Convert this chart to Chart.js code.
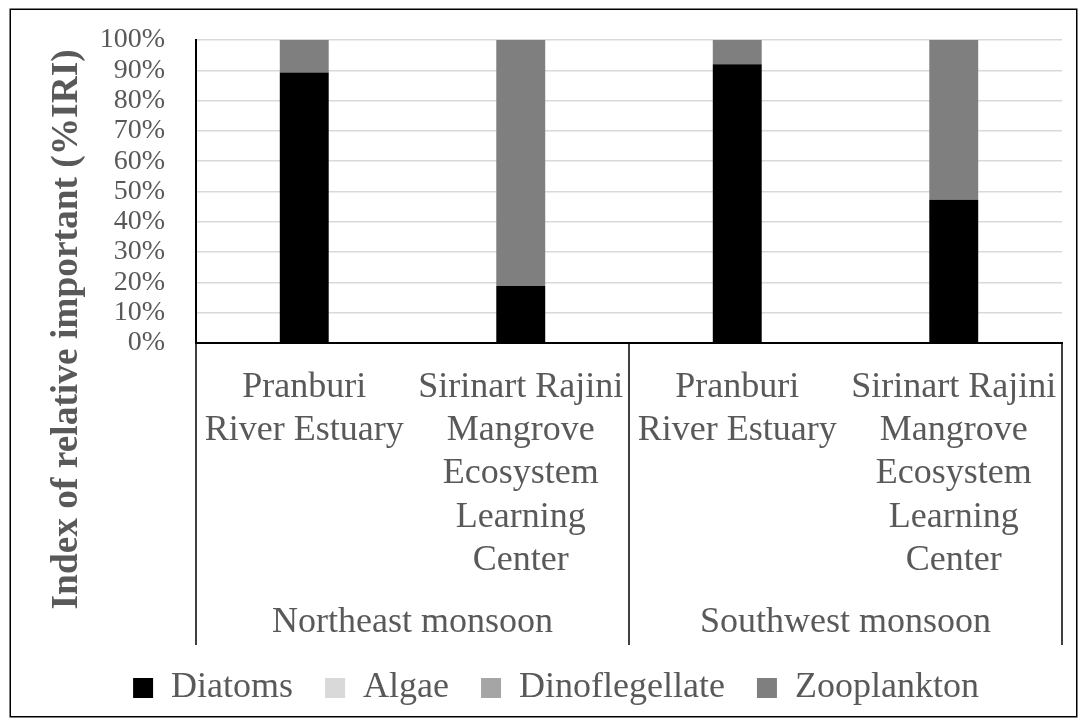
<!DOCTYPE html>
<html>
<head>
<meta charset="utf-8">
<script src="https://cdn.jsdelivr.net/npm/chart.js@4/dist/chart.umd.min.js"></script>
<style>
  html, body { margin: 0; padding: 0; background: #ffffff; }
  #wrap { width: 1086px; height: 726px; }
</style>
</head>
<body>
<div id="wrap"><canvas id="c" width="1086" height="726"></canvas></div>
<script>
// ---- data ----
const categories = [
  ['Pranburi', 'River Estuary'],
  ['Sirinart Rajini', 'Mangrove', 'Ecosystem', 'Learning', 'Center'],
  ['Pranburi', 'River Estuary'],
  ['Sirinart Rajini', 'Mangrove', 'Ecosystem', 'Learning', 'Center']
];
const seasons = ['Northeast monsoon', 'Southwest monsoon'];
const seasonSizes = [2, 2];
const diatoms = [89.3, 18.8, 92.0, 47.3];
const algae = [0, 0, 0, 0];
const dinoflegellate = [0, 0, 0, 0];
const zooplankton = [10.7, 81.2, 8.0, 52.7];
const yTicks = [0, 10, 20, 30, 40, 50, 60, 70, 80, 90, 100];

const FONT = "'Liberation Serif', 'Times New Roman', serif";
const TXT = '#595959';

const frame = {
  id: 'frame',
  afterDraw(chart) {
    const ctx = chart.ctx;
    ctx.save();
    ctx.strokeStyle = '#000000';
    ctx.lineWidth = 1.5;
    ctx.strokeRect(10.25, 9.25, 1066.5, 707.5);
    ctx.restore();
  }
};

const separators = {
  id: 'separators',
  afterDraw(chart) {
    const xs = chart.scales.x;
    const x2 = chart.scales.x2;
    const ctx = chart.ctx;
    const bounds = [-0.5];
    let acc = -0.5;
    seasonSizes.forEach(n => { acc += n; bounds.push(acc); });
    ctx.save();
    ctx.strokeStyle = '#000000';
    ctx.lineWidth = 1.5;
    bounds.forEach(b => {
      const px = Math.round(xs.getPixelForValue(b));
      ctx.beginPath();
      ctx.moveTo(px, chart.chartArea.bottom);
      ctx.lineTo(px, x2.bottom + 7);
      ctx.stroke();
    });
    ctx.restore();
  }
};

const BAR = 0.226;
new Chart(document.getElementById('c'), {
  type: 'bar',
  data: {
    labels: categories,
    datasets: [
      { label: 'Diatoms', data: diatoms, backgroundColor: '#000000', barPercentage: BAR, categoryPercentage: 1 },
      { label: 'Algae', data: algae, backgroundColor: '#D9D9D9', barPercentage: BAR, categoryPercentage: 1 },
      { label: 'Dinoflegellate', data: dinoflegellate, backgroundColor: '#A5A5A5', barPercentage: BAR, categoryPercentage: 1 },
      { label: 'Zooplankton', data: zooplankton, backgroundColor: '#7F7F7F', barPercentage: BAR, categoryPercentage: 1 }
    ]
  },
  options: {
    responsive: false,
    animation: false,
    devicePixelRatio: 1,
    layout: { padding: { top: 40, left: 26, right: 0, bottom: 10 } },
    plugins: {
      tooltip: { enabled: false },
      legend: {
        position: 'bottom',
        labels: {
          boxWidth: 20, boxHeight: 20, padding: 32,
          color: TXT,
          font: { family: FONT, size: 36 }
        }
      }
    },
    scales: {
      x: {
        stacked: true,
        offset: true,
        grid: { display: false, drawTicks: false },
        border: { display: true, color: '#000000', width: 2 },
        ticks: {
          color: TXT, padding: 23, maxRotation: 0, autoSkip: false,
          font: { family: FONT, size: 36, lineHeight: 1.2 }
        },
        afterFit(s) { s.height = 240; }
      },
      x2: {
        type: 'category',
        position: 'bottom',
        labels: seasons,
        offset: true,
        grid: { display: false, drawTicks: false },
        border: { display: false },
        ticks: {
          color: TXT, padding: 18, maxRotation: 0, autoSkip: false,
          font: { family: FONT, size: 36, lineHeight: 1.2 }
        },
        afterFit(s) { s.height = 55; }
      },
      y: {
        stacked: true,
        min: 0, max: 100,
        afterBuildTicks(s) { s.ticks = yTicks.map(v => ({ value: v })); },
        grid: { color: '#D9D9D9', lineWidth: 1.5, drawTicks: true, tickLength: 31, tickColor: 'rgba(0,0,0,0)' },
        border: { display: true, color: '#000000', width: 2 },
        ticks: {
          color: TXT, padding: 0, autoSkip: false,
          font: { family: FONT, size: 28 },
          callback: v => v + '%'
        },
        title: {
          display: true,
          text: 'Index of relative important (%IRI) ',
          align: 'end',
          color: TXT,
          padding: { top: 19, bottom: 0 },
          font: { family: FONT, size: 37.4, weight: 'bold', lineHeight: 1.2 }
        },
        afterFit(s) { s.width = 170; }
      },
      y2: {
        type: 'linear',
        position: 'right',
        display: true,
        grid: { display: false, drawTicks: false },
        border: { display: false },
        ticks: { display: false },
        afterFit(s) { s.width = 24; }
      }
    }
  },
  plugins: [frame, separators]
});
</script>
</body>
</html>
